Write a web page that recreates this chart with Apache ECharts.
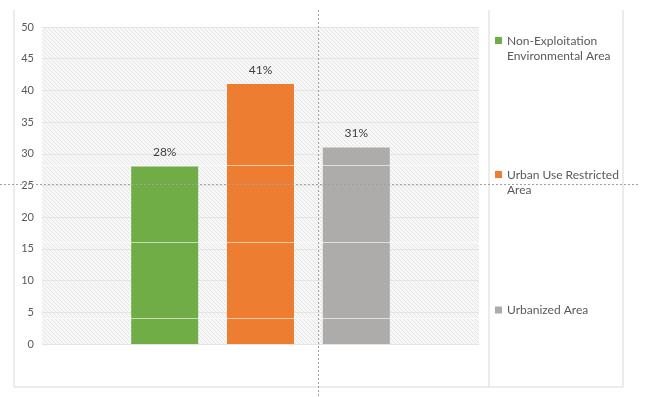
<!DOCTYPE html>
<html>
<head>
<meta charset="utf-8">
<script src="https://cdn.jsdelivr.net/npm/echarts@6/dist/echarts.min.js"></script>
<style>
  html, body { margin: 0; padding: 0; background: #fff; }
  #chart { width: 650px; height: 397px; }
</style>
</head>
<body>
<div id="chart"></div>
<script>
var areaNames = ['Non-Exploitation\nEnvironmental Area', 'Urban Use Restricted\nArea', 'Urbanized Area'];
var areaValues = [28, 41, 31];
var areaColors = ['#70ad47', '#ed7d31', '#aeabab'];
var yTicks = [0, 5, 10, 15, 20, 25, 30, 35, 40, 45, 50];

// hatched background of the plot area
var hatch = document.createElement('canvas');
hatch.width = 4;
hatch.height = 4;
var hc = hatch.getContext('2d');
hc.fillStyle = '#f7f7f7';
hc.fillRect(0, 0, 4, 4);
hc.strokeStyle = '#e6e6e6';
hc.lineWidth = 1;
hc.beginPath();
hc.moveTo(-1, -1); hc.lineTo(5, 5);
hc.moveTo(-1, 3); hc.lineTo(1, 5);
hc.moveTo(3, -1); hc.lineTo(5, 1);
hc.stroke();

var chart = echarts.init(document.getElementById('chart'));

var font = 'Lato, "Open Sans", sans-serif';
var twoLineIcon = 'path://M0,0H7V7H0Z M0,23.9H0.1V24H0Z';
var oneLineIcon = 'path://M0,0H0.1V0.1H0Z M0,8.5H7V15.5H0Z M0,23.9H0.1V24H0Z';
var legendTops = [34, 168, 298];

var legends = areaNames.map(function (n, i) {
  return {
    data: [n],
    orient: 'vertical',
    left: 495,
    top: legendTops[i],
    padding: 0,
    icon: i < 2 ? twoLineIcon : oneLineIcon,
    itemWidth: 7,
    itemHeight: 24,
    itemGap: 0,
    selectedMode: false,
    textStyle: { color: '#595959', fontSize: 12, fontFamily: font, lineHeight: 15 }
  };
});

var series = areaNames.map(function (n, i) {
  return {
    name: n,
    type: 'bar',
    data: [areaValues[i]],
    barWidth: 67,
    barGap: '43%',
    itemStyle: { color: areaColors[i] },
    label: {
      show: true,
      position: 'top',
      distance: 8,
      formatter: '{c}%',
      color: '#404040',
      fontSize: 12,
      fontFamily: font
    }
  };
});

// faint light streaks crossing the bars
series[0].markLine = {
  silent: true,
  symbol: 'none',
  label: { show: false },
  lineStyle: { color: 'rgba(255,255,255,0.6)', type: 'solid', width: 1 },
  data: [{ yAxis: 4 }, { yAxis: 16 }, { yAxis: 28.2 }],
  z: 10
};

var option = {
  backgroundColor: '#ffffff',
  animation: false,
  grid: {
    left: 42, top: 27, width: 437, height: 317,
    show: true,
    borderWidth: 0,
    backgroundColor: { image: hatch, repeat: 'repeat' }
  },
  legend: legends,
  xAxis: {
    type: 'category',
    data: [''],
    axisLine: { show: false },
    axisTick: { show: false },
    axisLabel: { show: false }
  },
  yAxis: {
    type: 'value',
    min: yTicks[0],
    max: yTicks[yTicks.length - 1],
    interval: 5,
    axisLine: { show: false },
    axisTick: { show: false },
    axisLabel: { color: '#595959', fontSize: 11, fontFamily: font, margin: 8 },
    splitLine: { lineStyle: { color: '#e4e4e4', width: 1 } }
  },
  series: series,
  graphic: [
    { type: 'polyline', silent: true, shape: { points: [[14, 10], [14, 387], [623, 387], [623, 10]] },
      style: { stroke: '#d9d9d9', fill: null, lineWidth: 1 } },
    { type: 'line', silent: true, shape: { x1: 489, y1: 10, x2: 489, y2: 387 },
      style: { stroke: '#d9d9d9', lineWidth: 1 } },
    { type: 'line', silent: true, z: 100, shape: { x1: 318.5, y1: 10, x2: 318.5, y2: 397 },
      style: { stroke: '#a0a0a0', lineWidth: 1, lineDash: [2, 2] } },
    { type: 'line', silent: true, z: 100, shape: { x1: 0, y1: 184.5, x2: 640, y2: 184.5 },
      style: { stroke: '#a0a0a0', lineWidth: 1, lineDash: [2, 2] } }
  ]
};

chart.setOption(option);
</script>
</body>
</html>
